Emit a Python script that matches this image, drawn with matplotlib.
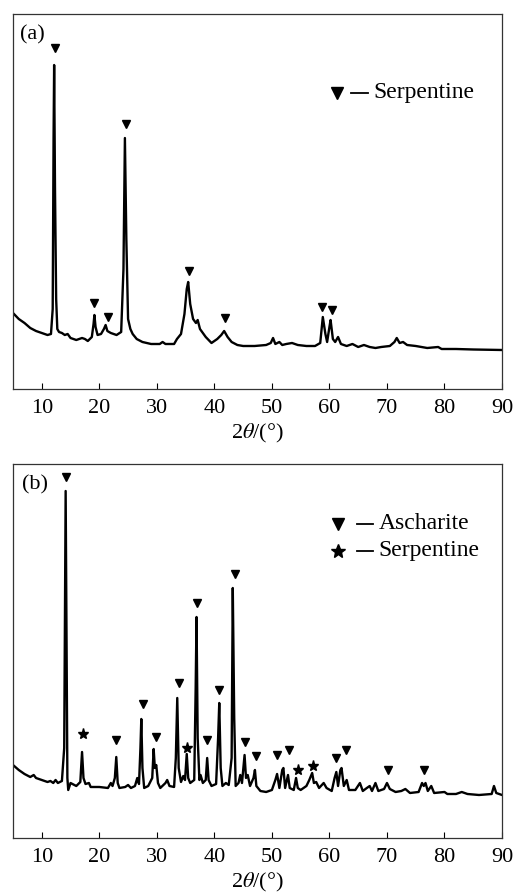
import matplotlib
matplotlib.use('Agg')
import matplotlib.pyplot as plt

plt.rcParams['font.family'] = ['Liberation Serif', 'DejaVu Serif']
plt.rcParams['mathtext.fontset'] = 'stix'

# panel (a) trace, 2theta vs intensity (a.u.)
xa = [5, 6, 7, 8, 9, 10, 11, 11.6, 11.9, 12.05, 12.15, 12.3, 12.5, 12.7, 13.0, 13.5, 14, 14.5, 15, 16,
      17, 17.5, 18, 18.7, 19.0, 19.15, 19.35, 19.7, 20.3, 20.8, 21.1, 21.4, 22, 23, 23.8, 24.2, 24.45,
      24.7, 25.0, 25.4, 25.8, 26.5, 27.5, 29, 30.5, 31, 31.5, 33, 33.5, 34.2, 34.8, 35.2, 35.45, 35.8,
      36.3, 36.8, 37.1, 37.5, 38.5, 39.5, 40.5, 41.2, 41.7, 42.3, 43, 44, 45, 47, 49, 49.8, 50.2, 50.6,
      51.3, 51.8, 52.5, 53.5, 54.5, 56, 57.5, 58.4, 58.85, 59.3, 59.6, 60.0, 60.2, 60.6, 61.0, 61.5, 62,
      63, 64, 65, 66, 67, 68, 69, 70.5, 71.3, 71.7, 72.2, 72.8, 73.5, 75, 77, 78.9, 79.5, 82, 85, 90]
ya = [76, 70, 66, 61, 58, 56, 54, 55, 80, 250, 324, 200, 90, 60, 57, 56, 54, 55, 51, 49,
      51, 50, 48, 52, 65, 74, 62, 54, 55, 60, 64, 58, 56, 54, 57, 120, 251,
      150, 70, 60, 55, 50, 47, 45, 45, 47, 45, 45, 50, 55, 75, 100, 107, 85,
      70, 66, 69, 60, 52, 46, 50, 54, 58, 52, 47, 44, 43, 43, 44, 46, 51, 45,
      47, 44, 45, 46, 44, 43, 43, 46, 72, 55, 47, 62, 69, 50, 47, 52, 45,
      43, 45, 42, 44, 42, 41, 42, 43, 47, 51, 46, 47, 44, 43, 41, 42, 40, 40, 39.5, 39]
serp_a_x = [12.3, 19.1, 21.5, 24.65, 35.6, 41.9, 58.7, 60.4]
serp_a_y = [341, 86, 72, 265, 118, 71, 82, 79]

# panel (b) trace
xb = [5, 6, 7, 8, 8.6, 9, 10, 11, 11.5, 12, 12.4, 12.8, 13.5, 13.9, 14.05, 14.15, 14.3, 14.45, 14.6,
      15.0, 16, 16.7, 17.0, 17.25, 17.6, 18.2, 18.5, 20, 21.5, 22.0, 22.3, 22.7, 22.95, 23.2, 23.5,
      24.5, 25, 25.5, 26.2, 26.6, 26.9, 27.15, 27.3, 27.5, 27.8, 28.5, 29.2, 29.45, 29.65, 29.9, 30.2,
      30.6, 31.5, 31.8, 32.2, 33, 33.3, 33.55, 33.8, 34.2, 34.6, 34.9, 35.2, 35.45, 35.8, 36.5, 36.75,
      36.9, 37.1, 37.4, 37.6, 38.0, 38.5, 38.75, 39.0, 39.5, 40.3, 40.65, 40.85, 41.1, 41.4, 42, 42.5,
      43.0, 43.2, 43.45, 43.7, 44.2, 44.5, 44.8, 45.05, 45.25, 45.5, 45.8, 46.2, 46.8, 47.05, 47.3,
      48, 49, 50, 50.6, 50.9, 51.3, 51.8, 52.0, 52.3, 52.8, 53.1, 53.8, 54.2, 54.5, 55, 56, 56.5,
      57.0, 57.3, 57.7, 58.2, 59.0, 59.5, 60.4, 60.9, 61.2, 61.5, 61.9, 62.1, 62.5, 63.0, 63.4, 64.5,
      65.3, 65.8, 66.5, 67, 67.4, 68.0, 68.5, 69.5, 70.0, 70.5, 71.5, 72.5, 73.2, 74, 75.5, 76.1,
      76.4, 76.7, 77.1, 77.7, 78.2, 80, 80.5, 82, 83, 84, 86, 88.2, 88.6, 89.0, 90]
yb = [73, 68, 64, 61, 63, 60, 58, 56, 57, 55, 58, 55, 57, 90, 250, 347, 200, 60, 48,
      55, 52, 56, 86, 60, 54, 55, 51, 51, 50, 55, 52, 60, 81, 55, 50,
      51, 53, 50, 52, 60, 54, 90, 119, 70, 50, 52, 60, 89, 70, 73, 55,
      50, 55, 58, 52, 51, 80, 140, 70, 56, 62, 58, 84, 60, 55, 58, 150,
      221, 100, 58, 63, 55, 58, 80, 58, 52, 54, 100, 135, 70, 52, 55, 53,
      80, 250, 120, 52, 55, 63, 55, 70, 83, 60, 63, 52, 60, 68, 52,
      47, 46, 48, 58, 64, 50, 68, 70, 50, 63, 50, 48, 60, 50, 48, 52, 58,
      65, 55, 56, 50, 55, 50, 47, 60, 66, 52, 68, 70, 52, 58, 48, 48,
      55, 47, 50, 52, 47, 55, 47, 49, 55, 49, 46, 47, 49, 45, 46, 55,
      52, 55, 47, 52, 45, 46, 44, 44, 46, 44, 43, 44, 52, 45, 43]
asch_x = [14.2, 22.9, 27.6, 29.8, 33.9, 37.0, 38.8, 40.8, 43.5, 45.3, 47.2, 50.9, 53.0, 61.1, 62.9, 70.1, 76.5]
asch_y = [361, 98, 134, 101, 155, 235, 98, 148, 264, 96, 82, 83, 88, 80, 88, 68, 68]
serp_b_x = [17.2, 35.3, 54.6, 57.2]
serp_b_y = [104, 90, 68, 72]

xticks = [10, 20, 30, 40, 50, 60, 70, 80, 90]

fig = plt.figure(figsize=(5.14, 8.93), dpi=100)
axA = fig.add_axes([0.0253, 0.5644, 0.9514, 0.4199])
axB = fig.add_axes([0.0253, 0.0616, 0.9514, 0.4188])


def style(ax, ylim):
    ax.set_xlim(5, 90)
    ax.set_ylim(0, ylim)
    ax.set_yticks([])
    ax.set_xticks(xticks)
    ax.tick_params(axis='x', direction='in', length=4, width=0.8, labelsize=16, pad=7)
    for s in ax.spines.values():
        s.set_linewidth(0.9)
        s.set_color('#333333')
    ax.set_xlabel(r'2$\theta$/(°)', fontsize=16, labelpad=3)


axA.plot(xa, ya, color='black', lw=1.7)
axA.plot(serp_a_x, serp_a_y, 'v', color='black', ms=6)
style(axA, 375)
axA.text(0.015, 0.945, '(a)', transform=axA.transAxes, fontsize=16, va='center', ha='left')
axA.plot([0.663], [0.79], 'v', color='black', ms=8, transform=axA.transAxes)
axA.plot([0.692, 0.726], [0.79, 0.79], color='black', lw=1.3, transform=axA.transAxes)
axA.text(0.737, 0.79, 'Serpentine', transform=axA.transAxes, fontsize=17, va='center', ha='left')

axB.plot(xb, yb, color='black', lw=1.7)
axB.plot(asch_x, asch_y, 'v', color='black', ms=6)
axB.plot(serp_b_x, serp_b_y, '*', color='black', ms=8)
style(axB, 374)
axB.text(0.018, 0.944, '(b)', transform=axB.transAxes, fontsize=16, va='center', ha='left')
axB.plot([0.664], [0.84], 'v', color='black', ms=8, transform=axB.transAxes)
axB.plot([0.664], [0.768], '*', color='black', ms=10, transform=axB.transAxes)
axB.plot([0.703, 0.736], [0.84, 0.84], color='black', lw=1.3, transform=axB.transAxes)
axB.plot([0.703, 0.736], [0.768, 0.768], color='black', lw=1.3, transform=axB.transAxes)
axB.text(0.748, 0.84, 'Ascharite', transform=axB.transAxes, fontsize=17, va='center', ha='left')
axB.text(0.748, 0.768, 'Serpentine', transform=axB.transAxes, fontsize=17, va='center', ha='left')

fig.savefig('out.png', dpi=100)
